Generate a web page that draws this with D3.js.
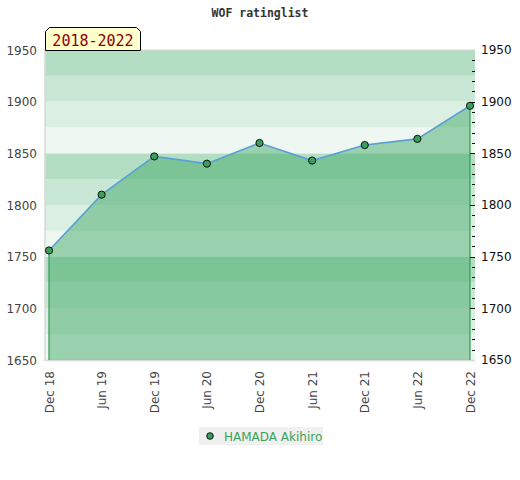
<!DOCTYPE html>
<html>
<head>
<meta charset="utf-8">
<script src="https://cdn.jsdelivr.net/npm/d3@7"></script>
<style>
body{margin:0;background:#fff;}
svg{display:block;}
</style>
</head>
<body>
<svg id="chart" width="520" height="480"></svg>
<script>
const title = "WOF ratinglist";
const periodLabel = "2018-2022";
const playerName = "HAMADA Akihiro";
const periods = ["Dec 18","Jun 19","Dec 19","Jun 20","Dec 20","Jun 21","Dec 21","Jun 22","Dec 22"];
const ratings = [1756, 1810, 1847, 1840, 1860, 1843, 1858, 1864, 1896];
const yTicks = [1650, 1700, 1750, 1800, 1850, 1900, 1950];
const yDomain = [1650, 1950];

const svg = d3.select("#chart");
const plot = {left:45, right:475, top:50, bottom:360};

const x = d3.scalePoint().domain(periods).range([49, 470]);
const y = d3.scaleLinear().domain(yDomain).range([plot.bottom, plot.top]);

// background bands every 25 units
const bandColors = ["#b3dec4","#c9e7d5","#dcefe3","#eef7f1"];
const bands = d3.range(yDomain[0], yDomain[1], 25);
svg.append("g").selectAll("rect").data(bands).join("rect")
  .attr("x", plot.left)
  .attr("width", plot.right - plot.left)
  .attr("y", d => y(d + 25))
  .attr("height", d => y(d) - y(d + 25))
  .attr("fill", d => {
    const idx = ((((1925 - d) / 25) % 4) + 4) % 4;
    return bandColors[idx];
  });

// borders
svg.append("line").attr("x1", plot.left).attr("x2", plot.left).attr("y1", plot.top).attr("y2", plot.bottom+1)
  .attr("stroke", "#d8d8d8").attr("stroke-width", 1.5);
svg.append("line").attr("x1", plot.left).attr("x2", plot.right).attr("y1", plot.bottom+0.5).attr("y2", plot.bottom+0.5)
  .attr("stroke", "#d8d8d8").attr("stroke-width", 1.5);
svg.append("line").attr("x1", plot.left).attr("x2", plot.right).attr("y1", plot.top).attr("y2", plot.top)
  .attr("stroke", "#d8d8d8").attr("stroke-width", 1);

const data = periods.map((p, i) => ({p, v: ratings[i]}));

// area
const area = d3.area().x(d => x(d.p)).y0(plot.bottom).y1(d => y(d.v));
svg.append("path").datum(data).attr("d", area)
  .attr("fill", "rgb(60,168,100)").attr("fill-opacity", 0.48);

// vertical edges
[data[0], data[data.length-1]].forEach(d => {
  svg.append("line").attr("x1", x(d.p)).attr("x2", x(d.p))
    .attr("y1", y(d.v)).attr("y2", plot.bottom)
    .attr("stroke", "#2f9a52").attr("stroke-width", 1.2);
});

// line
const line = d3.line().x(d => x(d.p)).y(d => y(d.v));
svg.append("path").datum(data).attr("d", line)
  .attr("fill", "none").attr("stroke", "#5b9fd8").attr("stroke-width", 1.6);

// points
svg.append("g").selectAll("circle").data(data).join("circle")
  .attr("cx", d => x(d.p)).attr("cy", d => y(d.v)).attr("r", 3.6)
  .attr("fill", "#3a9f5c").attr("stroke", "#111").attr("stroke-width", 1);

// left axis labels
svg.append("g").selectAll("text").data(yTicks).join("text")
  .attr("x", 37).attr("y", d => y(d) + 4.5)
  .attr("text-anchor", "end")
  .attr("font-family", "DejaVu Sans, sans-serif").attr("font-size", 12)
  .attr("fill", "#444").text(d => d);

// right axis
const rAxis = d3.axisRight(y).tickValues(yTicks).tickSize(0).tickPadding(0).tickFormat(d => d);
const rg = svg.append("g").attr("transform", `translate(481,0)`).call(rAxis);
rg.select(".domain").remove();
rg.selectAll("text").attr("font-family", "DejaVu Sans, sans-serif").attr("font-size", 12).attr("fill", "#111").attr("x", 0);

const minor = d3.range(yDomain[0] + 10, yDomain[1], 10);
svg.append("g").selectAll("line").data(minor).join("line")
  .attr("x1", d => d % 50 === 0 ? 470 : 472).attr("x2", 475)
  .attr("y1", d => Math.round(y(d)) + 0.5).attr("y2", d => Math.round(y(d)) + 0.5)
  .attr("stroke", "#111").attr("stroke-width", 1);

// x axis labels
svg.append("g").selectAll("text").data(periods).join("text")
  .attr("transform", d => `translate(${x(d) + 4.5},371) rotate(-90)`)
  .attr("text-anchor", "end")
  .attr("font-family", "DejaVu Sans, sans-serif").attr("font-size", 12)
  .attr("fill", "#444").text(d => d);

// title
svg.append("text").attr("x", 260).attr("y", 17).attr("text-anchor", "middle")
  .attr("font-family", "DejaVu Sans Mono, monospace").attr("font-weight", "bold").attr("font-size", 11.5)
  .attr("fill", "#333").text(title);

// period label box
const bx0 = 45.5, bx1 = 140.5, by0 = 27.5, by1 = 50.5, c = 4;
svg.append("path")
  .attr("d", `M${bx0},${by1} L${bx0},${by0+c} L${bx0+c},${by0} L${bx1-c},${by0} L${bx1},${by0+c} L${bx1},${by1} Z`)
  .attr("fill", "#ffffcc").attr("stroke", "#000").attr("stroke-width", 1);
svg.append("text").attr("x", 93).attr("y", 45.5).attr("text-anchor", "middle")
  .attr("font-family", "DejaVu Sans Mono, monospace").attr("font-size", 15)
  .attr("fill", "#8b0000").text(periodLabel);

// legend
svg.append("rect").attr("x", 199).attr("y", 427).attr("width", 124).attr("height", 18).attr("fill", "#f0f0f0");
svg.append("circle").attr("cx", 210).attr("cy", 436).attr("r", 3.3)
  .attr("fill", "#3a9f5c").attr("stroke", "#111").attr("stroke-width", 1);
svg.append("text").attr("x", 224).attr("y", 440.5)
  .attr("font-family", "DejaVu Sans, sans-serif").attr("font-size", 12)
  .attr("fill", "#3aa35a").text(playerName);
</script>
</body>
</html>
